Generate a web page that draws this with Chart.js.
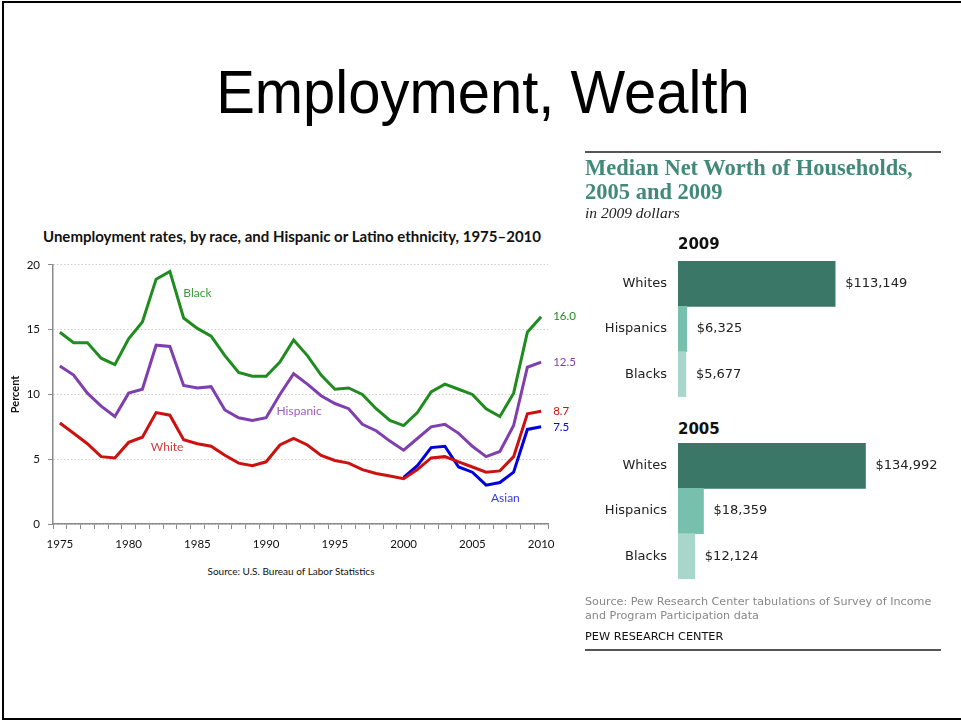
<!DOCTYPE html>
<html>
<head>
<meta charset="utf-8">
<script src="https://cdn.jsdelivr.net/npm/chart.js@4.4.1/dist/chart.umd.min.js"></script>
<style>
  html, body { margin: 0; padding: 0; background: #fff; }
  body { width: 961px; height: 721px; position: relative; overflow: hidden; }
  .frame { position: absolute; left: 2px; top: 1px; width: 980px; height: 715px;
           border-left: 2px solid #000; border-top: 2px solid #000; border-bottom: 2px solid #000; }
  .abs { position: absolute; white-space: nowrap; }
  #slideTitle { left: 0; width: 966px; top: 57px; text-align: center; font-family: "Liberation Sans", Arial, sans-serif;
                font-size: 61px; color: #000; transform: scaleX(0.95); }
  #lineTitle { left: 0; width: 584px; top: 227px; text-align: center; font-family: Lato, sans-serif;
               font-weight: bold; font-size: 15px; color: #111; }
  #lineSource { left: 0; width: 582px; top: 565px; text-align: center; font-family: Lato, sans-serif;
                font-size: 10px; color: #111; }
  .rule { position: absolute; left: 585px; width: 356px; height: 2px; background: #555; }
  #nwTitle { left: 585px; top: 156px; font-family: "Liberation Serif", serif; font-weight: bold;
             font-size: 22.5px; line-height: 24px; color: #418a79; }
  #nwSub { left: 585px; top: 204px; font-family: "Liberation Serif", serif; font-style: italic; font-size: 15.5px; color: #222; }
  .yearHead { left: 678px; font-family: "DejaVu Sans", Verdana, sans-serif; font-weight: bold; font-size: 15px; color: #111; }
  #nwSource { left: 585px; top: 595px; font-family: "DejaVu Sans", Verdana, sans-serif; font-size: 11.2px;
              line-height: 14px; color: #888; }
  #pew { left: 585px; top: 630px; font-family: "DejaVu Sans", Verdana, sans-serif; font-size: 11.3px; color: #111; }
  canvas { position: absolute; }
</style>
</head>
<body>
<div class="frame"></div>
<div id="slideTitle" class="abs">Employment, Wealth</div>

<div id="lineTitle" class="abs">Unemployment rates, by race, and Hispanic or Latino ethnicity, 1975–2010</div>
<canvas id="rates" width="600" height="310" style="left:0;top:250px;width:600px;height:310px"></canvas>
<div id="lineSource" class="abs">Source: U.S. Bureau of Labor Statistics</div>

<div class="rule" style="top:151px"></div>
<div id="nwTitle" class="abs">Median Net Worth of Households,<br>2005 and 2009</div>
<div id="nwSub" class="abs">in 2009 dollars</div>
<div class="abs yearHead" style="top:235px">2009</div>
<canvas id="worth2009" width="355" height="142" style="left:585px;top:258px;width:355px;height:142px"></canvas>
<div class="abs yearHead" style="top:420px">2005</div>
<canvas id="worth2005" width="355" height="142" style="left:585px;top:440px;width:355px;height:142px"></canvas>
<div id="nwSource" class="abs">Source: Pew Research Center tabulations of Survey of Income<br>and Program Participation data</div>
<div id="pew" class="abs">PEW RESEARCH CENTER</div>
<div class="rule" style="top:649px"></div>

<script>
/* ---------- unemployment rates, percent ---------- */
const years = [1975, 1976, 1977, 1978, 1979, 1980, 1981, 1982, 1983, 1984, 1985, 1986,
  1987, 1988, 1989, 1990, 1991, 1992, 1993, 1994, 1995, 1996, 1997, 1998,
  1999, 2000, 2001, 2002, 2003, 2004, 2005, 2006, 2007, 2008, 2009, 2010];

const blackRate = [14.8, 14.0, 14.0, 12.8, 12.3, 14.3, 15.6, 18.9, 19.5, 15.9, 15.1, 14.5,
  13.0, 11.7, 11.4, 11.4, 12.5, 14.2, 13.0, 11.5, 10.4, 10.5, 10.0, 8.9,
  8.0, 7.6, 8.6, 10.2, 10.8, 10.4, 10.0, 8.9, 8.3, 10.1, 14.8, 16.0];

const hispanicRate = [12.2, 11.5, 10.1, 9.1, 8.3, 10.1, 10.4, 13.8, 13.7, 10.7, 10.5, 10.6,
  8.8, 8.2, 8.0, 8.2, 10.0, 11.6, 10.8, 9.9, 9.3, 8.9, 7.7, 7.2,
  6.4, 5.7, 6.6, 7.5, 7.7, 7.0, 6.0, 5.2, 5.6, 7.6, 12.1, 12.5];

const whiteRate = [7.8, 7.0, 6.2, 5.2, 5.1, 6.3, 6.7, 8.6, 8.4, 6.5, 6.2, 6.0,
  5.3, 4.7, 4.5, 4.8, 6.1, 6.6, 6.1, 5.3, 4.9, 4.7, 4.2, 3.9,
  3.7, 3.5, 4.2, 5.1, 5.2, 4.8, 4.4, 4.0, 4.1, 5.2, 8.5, 8.7];

// Asian series only starts in 2000
const asianRate = [null, null, null, null, null, null, null, null, null, null, null, null,
  null, null, null, null, null, null, null, null, null, null, null, null,
  null, 3.6, 4.5, 5.9, 6.0, 4.4, 4.0, 3.0, 3.2, 4.0, 7.3, 7.5];

const yTicks = [0, 5, 10, 15, 20];

/* ---------- median net worth, 2009 dollars ---------- */
const groups = ["Whites", "Hispanics", "Blacks"];
const worth2009 = [113149, 6325, 5677];
const worth2005 = [134992, 18359, 12124];
const groupColors = ["#3b7767", "#77c0ae", "#a8d6ca"];

const lineFont = "Lato, sans-serif";

// series names written beside the lines: [text, year position, value position, color]
const seriesNotes = [
  ["Black", 1985, 17.8, "#3c9a3c"],
  ["Hispanic", 1992.4, 8.7, "#9d5cc4"],
  ["White", 1982.8, 5.95, "#d43c3c"],
  ["Asian", 2007.4, 2.0, "#3a3ae6"]
];

const ratesLabels = {
  id: "ratesLabels",
  afterDatasetsDraw(chart) {
    const ctx = chart.ctx;
    const xs = chart.scales.x, ys = chart.scales.y;
    ctx.save();
    ctx.textBaseline = "middle";
    // value at the end of each line
    chart.data.datasets.forEach((ds) => {
      const last = ds.data.length - 1;
      const v = ds.data[last];
      ctx.fillStyle = ds.borderColor;
      ctx.font = "11.5px " + lineFont;
      ctx.textAlign = "left";
      ctx.fillText(v.toFixed(1), xs.getPixelForValue(last) + 12, ys.getPixelForValue(v));
    });
    // series names
    ctx.font = "12px " + lineFont;
    ctx.textAlign = "center";
    seriesNotes.forEach(([txt, yr, val, col]) => {
      ctx.fillStyle = col;
      ctx.fillText(txt, xs.getPixelForValue(yr - years[0]), ys.getPixelForValue(val));
    });
    // axis title
    ctx.translate(15, (ys.top + ys.bottom) / 2);
    ctx.rotate(-Math.PI / 2);
    ctx.fillStyle = "#111";
    ctx.font = "bold 11px " + lineFont;
    ctx.fillText("Percent", 0, 0);
    ctx.restore();
  }
};

const line = (label, data, color) => ({
  label, data, borderColor: color, borderWidth: 3, pointRadius: 0,
  tension: 0, fill: false, spanGaps: false
});

new Chart(document.getElementById("rates"), {
  type: "line",
  plugins: [ratesLabels],
  data: {
    labels: years,
    datasets: [
      line("Black", blackRate, "#1e8c1e"),
      line("Hispanic", hispanicRate, "#7f3fae"),
      line("White", whiteRate, "#cc1111"),
      line("Asian", asianRate, "#0000e0")
    ]
  },
  options: {
    responsive: false,
    animation: false,
    layout: { padding: { top: 12, right: 52, left: 0, bottom: 0 } },
    plugins: { legend: { display: false }, tooltip: { enabled: false } },
    scales: {
      x: {
        type: "category",
        offset: true,
        afterFit: (s) => { s.height = 36; },
        border: { color: "#8a8a8a", width: 1.5 },
        grid: { offset: true, drawOnChartArea: false, tickLength: 5, tickColor: "#8a8a8a", tickWidth: 1 },
        ticks: {
          autoSkip: false, maxRotation: 0, padding: 8, color: "#111",
          font: { family: lineFont, size: 11.5 },
          callback: (v, i) => (years[i] % 5 === 0 ? String(years[i]) : "")
        }
      },
      y: {
        min: 0, max: 20,
        afterFit: (s) => { s.width = 53; },
        afterBuildTicks: (s) => { s.ticks = yTicks.map((v) => ({ value: v })); },
        border: { color: "#8a8a8a", width: 1.5, dash: [1.5, 2] },
        grid: { color: "#cfcfcf", tickLength: 5, tickColor: "#8a8a8a", tickBorderDash: [] },
        ticks: { padding: 8, color: "#111", font: { family: lineFont, size: 11.5 } }
      }
    }
  }
});

/* ---------- net worth bars ---------- */
const barLabels = {
  id: "barLabels",
  afterDatasetsDraw(chart) {
    const ctx = chart.ctx;
    const meta = chart.getDatasetMeta(0);
    const vals = chart.data.datasets[0].data;
    ctx.save();
    ctx.font = "13px 'DejaVu Sans', Verdana, sans-serif";
    ctx.textBaseline = "middle";
    meta.data.forEach((bar, i) => {
      ctx.fillStyle = "#222";
      ctx.textAlign = "right";
      ctx.fillText(chart.data.labels[i], chart.chartArea.left - 11, bar.y);
      ctx.textAlign = "left";
      ctx.fillText("$" + vals[i].toLocaleString("en-US"), bar.x + 10, bar.y);
    });
    ctx.restore();
  }
};

const worthChart = (id, values) => new Chart(document.getElementById(id), {
  type: "bar",
  plugins: [barLabels],
  data: {
    labels: groups,
    datasets: [{ data: values, backgroundColor: groupColors, categoryPercentage: 1, barPercentage: 1 }]
  },
  options: {
    indexAxis: "y",
    responsive: false,
    animation: false,
    layout: { padding: { left: 93, right: 12, top: 3, bottom: 3 } },
    plugins: { legend: { display: false }, tooltip: { enabled: false } },
    scales: {
      x: { display: false, min: 0, max: 180000 },
      y: { display: false }
    }
  }
});

worthChart("worth2009", worth2009);
worthChart("worth2005", worth2005);
</script>
</body>
</html>
